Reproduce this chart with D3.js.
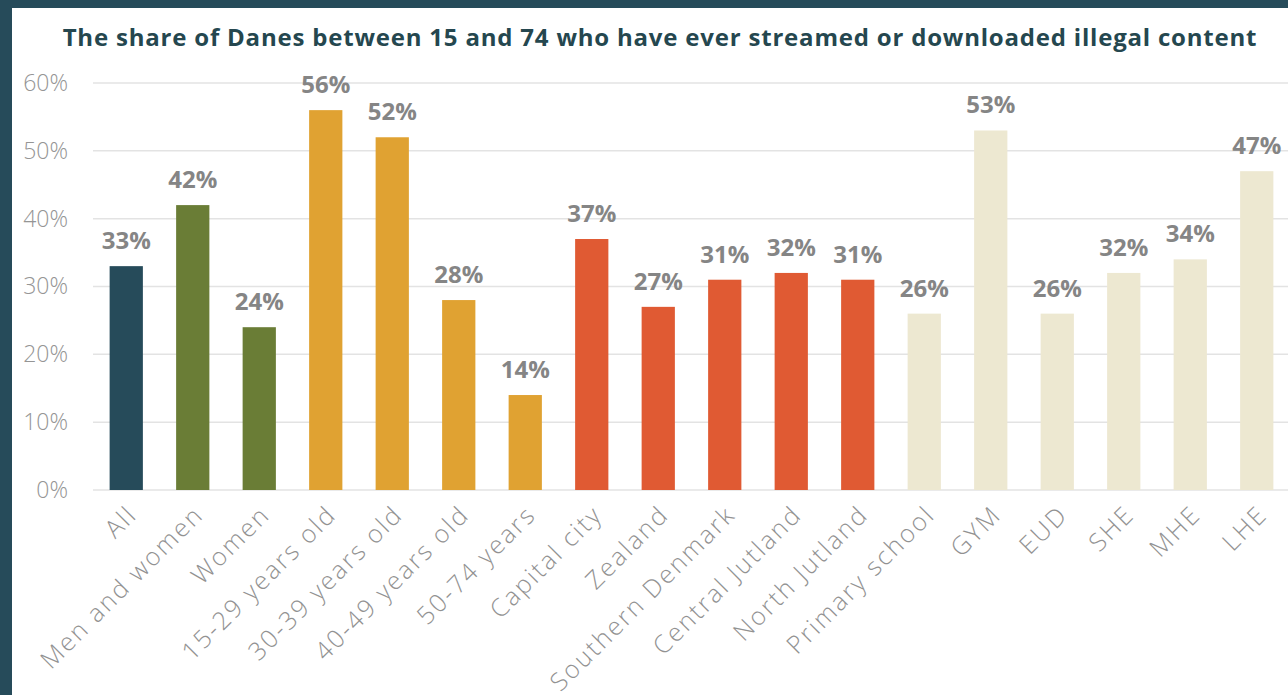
<!DOCTYPE html>
<html>
<head>
<meta charset="utf-8">
<script src="https://cdn.jsdelivr.net/npm/d3@7"></script>
<style>
  body { margin: 0; background: #fff; }
  svg { display: block; }
</style>
</head>
<body>
<svg id="chart"></svg>
<script>
// categories and values
const categories = ['All', 'Men and women', 'Women', '15-29 years old', '30-39 years old',
  '40-49 years old', '50-74 years', 'Capital city', 'Zealand', 'Southern Denmark',
  'Central  Jutland', 'North  Jutland', 'Primary school', 'GYM', 'EUD', 'SHE', 'MHE', 'LHE'];
const values = [33, 42, 24, 56, 52, 28, 14, 37, 27, 31, 32, 31, 26, 53, 26, 32, 34, 47];
// group of each bar (drives the colour)
const groups = ['all', 'gender', 'gender', 'age', 'age', 'age', 'age',
  'region', 'region', 'region', 'region', 'region',
  'edu', 'edu', 'edu', 'edu', 'edu', 'edu'];
const yTicks = [0, 10, 20, 30, 40, 50, 60];

const config = {
  width: 1288,
  height: 695,
  margin: {top: 83, right: -2, bottom: 205, left: 93}
};

const colors = d3.scaleOrdinal()
  .domain(['all', 'gender', 'age', 'region', 'edu'])
  .range(['#264b5a', '#6a7d36', '#e0a232', '#e05a33', '#ede8d1']);

const svg = d3.select('#chart')
  .attr('width', config.width)
  .attr('height', config.height);

// dark frame on the left and top
svg.append('rect').attr('x', 0).attr('y', 0).attr('width', config.width).attr('height', 8).attr('fill', '#264b5a');
svg.append('rect').attr('x', 0).attr('y', 0).attr('width', 12).attr('height', config.height).attr('fill', '#264b5a');

const innerW = config.width - config.margin.left - config.margin.right;
const innerH = config.height - config.margin.top - config.margin.bottom;

const chart = svg.append('g')
  .attr('transform', `translate(${config.margin.left},${config.margin.top})`);

const x = d3.scaleBand()
  .domain(categories)
  .range([0, innerW])
  .paddingInner(0.5)
  .paddingOuter(0.25);

const y = d3.scaleLinear()
  .domain([0, 60])
  .range([innerH, 0]);

// gridlines
chart.selectAll('.grid')
  .data(yTicks)
  .join('line')
  .attr('class', 'grid')
  .attr('x1', 0)
  .attr('x2', innerW)
  .attr('y1', d => y(d))
  .attr('y2', d => y(d))
  .attr('stroke', '#e3e3e3')
  .attr('stroke-width', 1.5);

// y axis labels
const yAxis = chart.append('g')
  .call(d3.axisLeft(y).tickValues(yTicks).tickFormat(d => d + '%').tickSize(0).tickPadding(25));
yAxis.select('.domain').remove();
yAxis.selectAll('text')
  .attr('fill', '#959595')
  .style('font-family', '"Open Sans", sans-serif')
  .style('font-weight', 300)
  .style('font-size', '23px');

// bars
chart.selectAll('.bar')
  .data(categories)
  .join('rect')
  .attr('class', 'bar')
  .attr('x', d => x(d))
  .attr('width', x.bandwidth())
  .attr('y', (d, i) => y(values[i]))
  .attr('height', (d, i) => innerH - y(values[i]))
  .attr('fill', (d, i) => colors(groups[i]));

// value labels
chart.selectAll('.value')
  .data(categories)
  .join('text')
  .attr('class', 'value')
  .attr('x', d => x(d) + x.bandwidth() / 2)
  .attr('y', (d, i) => y(values[i]) - 17)
  .attr('text-anchor', 'middle')
  .attr('fill', '#858585')
  .style('font-family', '"Open Sans", sans-serif')
  .style('font-weight', 700)
  .style('font-size', '24px')
  .text((d, i) => values[i] + '%');

// category labels, rotated
chart.selectAll('.cat')
  .data(categories)
  .join('text')
  .attr('class', 'cat')
  .attr('transform', d => `translate(${x(d) + x.bandwidth() / 2 + 6},${innerH + 20}) rotate(-45)`)
  .attr('text-anchor', 'end')
  .attr('dy', '0.35em')
  .attr('fill', '#929292')
  .style('font-family', '"Open Sans", sans-serif')
  .style('font-weight', 300)
  .style('font-size', '25px')
  .style('letter-spacing', '2.2px')
  .text(d => d);

// title
svg.append('text')
  .attr('x', 660)
  .attr('y', 46)
  .attr('text-anchor', 'middle')
  .attr('fill', '#25474f')
  .style('font-family', '"Open Sans", sans-serif')
  .style('font-weight', 700)
  .style('font-size', '24px')
  .style('letter-spacing', '0.8px')
  .text('The share of Danes between 15 and 74 who have ever streamed or downloaded illegal content');
</script>
</body>
</html>
